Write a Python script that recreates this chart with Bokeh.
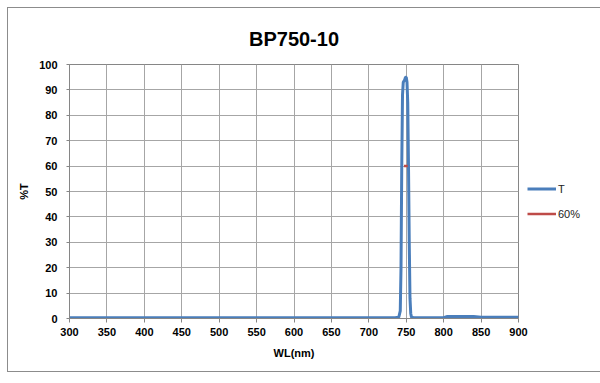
from bokeh.plotting import figure
from bokeh.models import Range1d, Legend, LegendItem, FixedTicker
from bokeh.embed import file_html
from bokeh.resources import INLINE

# Data
wl = [300, 400, 500, 600, 700, 735, 740, 742, 743, 744, 745, 746, 747, 748, 749,
      750, 751, 752, 753, 754, 755, 756, 757, 760, 780, 800, 805, 840, 850, 900]
T = [0.3, 0.3, 0.3, 0.3, 0.3, 0.3, 0.5, 3, 20, 60, 88, 93, 93.5, 94, 95,
     95, 93, 85, 60, 30, 8, 2, 0.5, 0.3, 0.3, 0.3, 0.8, 0.8, 0.5, 0.5]
wl60 = [747, 752]
v60 = [60, 60]
x_ticks = list(range(300, 901, 50))
y_ticks = list(range(0, 101, 10))

p = figure(frame_width=449, frame_height=254, output_backend="svg", toolbar_location=None,
           x_range=Range1d(300, 900), y_range=Range1d(0, 100),
           title="BP750-10")
p.min_border_left = 61
p.min_border_right = 70
p.min_border_top = 56
p.min_border_bottom = 53
p.styles = {"border": "1px solid #8c8c8c", "margin": "7px 0 0 7px"}

p.title.align = "center"
p.title.vertical_align = "bottom"
p.title.text_font = "Liberation Sans"
p.title.text_font_size = "20px"
p.title.text_font_style = "bold"
p.title.text_color = "#000000"
p.title.standoff = 30

blue = "#4a7ebb"
red = "#be4b48"
r1 = p.line(wl, T, line_color=blue, line_width=3)
r2 = p.line(wl60, v60, line_color=red, line_width=2.5)

for ax in (p.xaxis[0], p.yaxis[0]):
    ax.major_label_text_font = "Liberation Sans"
    ax.major_label_text_font_style = "bold"
    ax.major_label_text_font_size = "11px"
    ax.major_label_text_color = "#000000"
    ax.axis_label_text_font = "Liberation Sans"
    ax.axis_label_text_font_style = "bold"
    ax.axis_label_text_font_size = "11px"
    ax.axis_label_text_color = "#000000"
    ax.axis_line_color = "#868686"
    ax.major_tick_line_color = "#868686"
    ax.minor_tick_line_color = None
    ax.major_tick_in = 0

p.xaxis.major_tick_out = 4
p.yaxis.major_tick_out = 3
p.xaxis.ticker = FixedTicker(ticks=x_ticks)
p.yaxis.ticker = FixedTicker(ticks=y_ticks)
p.xaxis.axis_label = "WL(nm)"
p.yaxis.axis_label = "%T"
p.xaxis.major_label_standoff = 5
p.yaxis.major_label_standoff = 9
p.xaxis.axis_label_standoff = 8
p.yaxis.axis_label_standoff = 6

p.xgrid.grid_line_color = "#a6a6a6"
p.ygrid.grid_line_color = "#a6a6a6"
p.outline_line_color = "#868686"

legend = Legend(items=[LegendItem(label="T", renderers=[r1]),
                       LegendItem(label="60%", renderers=[r2])],
                location="left", orientation="vertical",
                title=" ", title_text_font_size="13px", title_standoff=5,
                label_text_font="Liberation Sans", label_text_font_size="11px",
                label_text_color="#222222", glyph_width=29, glyph_height=12,
                spacing=13, padding=0, margin=9, label_standoff=2,
                background_fill_alpha=0, border_line_color=None)
p.add_layout(legend, "right")

open("out.html", "w").write(file_html(p, INLINE))
